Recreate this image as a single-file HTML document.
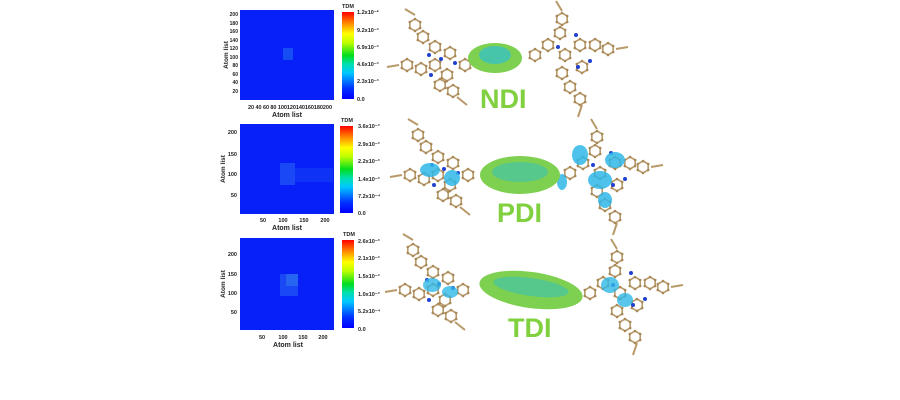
<!DOCTYPE html>
<html><head><meta charset="utf-8"><style>
body{margin:0;background:#fff;}
svg{display:block;font-family:"Liberation Sans",Arial,sans-serif;}
.t{font-size:5.5px;font-weight:bold;fill:#222}
.ty{font-size:5px;font-weight:bold;fill:#222}
.al{font-size:7px;font-weight:bold;fill:#222}
.ay{font-size:6.5px;font-weight:bold;fill:#222}
.lab{font-size:27px;font-weight:bold;fill:#80d040}
</style></head><body>
<svg width="900" height="400" viewBox="0 0 900 400">
<defs>
<linearGradient id="jet" x1="0" y1="1" x2="0" y2="0">
<stop offset="0" stop-color="#0000ff"/><stop offset="0.12" stop-color="#0030ff"/><stop offset="0.3" stop-color="#00c8ff"/>
<stop offset="0.4" stop-color="#00e0b0"/><stop offset="0.5" stop-color="#00dd20"/><stop offset="0.65" stop-color="#c0ff00"/>
<stop offset="0.75" stop-color="#ffff00"/><stop offset="0.88" stop-color="#ff8000"/><stop offset="1" stop-color="#ff0000"/>
</linearGradient>
<g id="ring"><polygon points="0,-6 5.2,-3 5.2,3 0,6 -5.2,3 -5.2,-3" fill="none" stroke="#b89a6a" stroke-width="1.6"/>
<circle cx="0" cy="-6" r="1.3" fill="#a88858"/><circle cx="5.2" cy="-3" r="1.3" fill="#a88858"/><circle cx="5.2" cy="3" r="1.3" fill="#a88858"/><circle cx="0" cy="6" r="1.3" fill="#a88858"/><circle cx="-5.2" cy="3" r="1.3" fill="#a88858"/><circle cx="-5.2" cy="-3" r="1.3" fill="#a88858"/></g>
<g id="wingL">
<use href="#ring" x="20" y="10"/><use href="#ring" x="28" y="22"/><use href="#ring" x="40" y="32"/><use href="#ring" x="55" y="38"/>
<use href="#ring" x="12" y="50"/><use href="#ring" x="26" y="54"/><use href="#ring" x="40" y="50"/><use href="#ring" x="52" y="60"/>
<use href="#ring" x="45" y="70"/><use href="#ring" x="58" y="76"/><use href="#ring" x="70" y="50"/>
<path d="M4 50 L-8 52 M20 0 L10 -6 M62 82 L72 90" stroke="#b89a6a" stroke-width="2"/>
<circle cx="34" cy="40" r="2" fill="#2040d0"/><circle cx="46" cy="44" r="2" fill="#2040d0"/><circle cx="36" cy="60" r="2" fill="#2040d0"/><circle cx="60" cy="48" r="2" fill="#2040d0"/>
</g>
<g id="wingR">
<use href="#ring" x="15" y="50"/><use href="#ring" x="28" y="40"/><use href="#ring" x="40" y="28"/><use href="#ring" x="42" y="14"/>
<use href="#ring" x="45" y="50"/><use href="#ring" x="60" y="40"/><use href="#ring" x="75" y="40"/><use href="#ring" x="88" y="44"/>
<use href="#ring" x="42" y="68"/><use href="#ring" x="50" y="82"/><use href="#ring" x="60" y="94"/><use href="#ring" x="62" y="62"/>
<path d="M42 6 L36 -4 M96 44 L108 42 M62 100 L58 112" stroke="#b89a6a" stroke-width="2"/>
<circle cx="38" cy="42" r="2" fill="#2040d0"/><circle cx="56" cy="30" r="2" fill="#2040d0"/><circle cx="58" cy="62" r="2" fill="#2040d0"/><circle cx="70" cy="56" r="2" fill="#2040d0"/>
</g>
</defs>

<!-- Panel 1 -->
<rect x="240" y="10" width="94" height="90" fill="#0820f8"/>
<rect x="283" y="48" width="10" height="12" fill="#1e6af0" opacity="0.6"/>
<rect x="342" y="12" width="12" height="87" fill="url(#jet)"/>
<text class="t" x="342" y="8" font-size="6">TDM</text>
<g class="ty" text-anchor="end"><text x="238" y="16">200</text><text x="238" y="25">180</text><text x="238" y="33">160</text><text x="238" y="42">140</text><text x="238" y="50">120</text><text x="238" y="59">100</text><text x="238" y="67">80</text><text x="238" y="76">60</text><text x="238" y="84">40</text><text x="238" y="93">20</text></g>
<g class="t"><text x="357" y="14">1.2x10⁻²</text><text x="357" y="32">9.2x10⁻³</text><text x="357" y="49">6.9x10⁻³</text><text x="357" y="66">4.6x10⁻³</text><text x="357" y="83">2.3x10⁻³</text><text x="357" y="101">0.0</text></g>
<text class="t" x="248" y="109" textLength="84">20 40 60 80 100120140160180200</text>
<text class="al" x="287" y="117" text-anchor="middle">Atom list</text>
<text class="ay" x="228" y="55" text-anchor="middle" transform="rotate(-90 228 55)">Atom list</text>

<!-- Panel 2 -->
<rect x="240" y="124" width="94" height="90" fill="#0820f8"/>
<rect x="280" y="163" width="15" height="22" fill="#2a70f0" opacity="0.5"/>
<rect x="295" y="168" width="38" height="14" fill="#1a50f0" opacity="0.4"/>
<rect x="340" y="126" width="13" height="87" fill="url(#jet)"/>
<text class="t" x="341" y="122" font-size="6">TDM</text>
<g class="t" text-anchor="end"><text x="237" y="134">200</text><text x="237" y="156">150</text><text x="237" y="176">100</text><text x="237" y="197">50</text></g>
<g class="t"><text x="358" y="128">3.6x10⁻³</text><text x="358" y="146">2.9x10⁻³</text><text x="358" y="163">2.2x10⁻³</text><text x="358" y="181">1.4x10⁻³</text><text x="358" y="198">7.2x10⁻⁴</text><text x="358" y="215">0.0</text></g>
<g class="t" text-anchor="middle"><text x="263" y="222">50</text><text x="283" y="222">100</text><text x="304" y="222">150</text><text x="325" y="222">200</text></g>
<text class="al" x="287" y="230" text-anchor="middle">Atom list</text>
<text class="ay" x="225" y="169" text-anchor="middle" transform="rotate(-90 225 169)">Atom list</text>

<!-- Panel 3 -->
<rect x="240" y="238" width="94" height="92" fill="#0820f8"/>
<rect x="280" y="274" width="18" height="22" fill="#2a70f0" opacity="0.5"/>
<rect x="286" y="274" width="12" height="12" fill="#3a90f0" opacity="0.4"/>
<rect x="342" y="240" width="12" height="88" fill="url(#jet)"/>
<text class="t" x="343" y="236" font-size="6">TDM</text>
<g class="t" text-anchor="end"><text x="237" y="256">200</text><text x="237" y="276">150</text><text x="237" y="295">100</text><text x="237" y="314">50</text></g>
<g class="t"><text x="358" y="243">2.6x10⁻³</text><text x="358" y="260">2.1x10⁻³</text><text x="358" y="278">1.5x10⁻³</text><text x="358" y="296">1.0x10⁻³</text><text x="358" y="313">5.2x10⁻⁴</text><text x="358" y="331">0.0</text></g>
<g class="t" text-anchor="middle"><text x="262" y="339">50</text><text x="283" y="339">100</text><text x="303" y="339">150</text><text x="323" y="339">200</text></g>
<text class="al" x="288" y="347" text-anchor="middle">Atom list</text>
<text class="ay" x="225" y="284" text-anchor="middle" transform="rotate(-90 225 284)">Atom list</text>

<!-- NDI molecule -->
<use href="#wingL" x="395" y="15"/>
<use href="#wingR" x="520" y="5"/>
<ellipse cx="495" cy="58" rx="27" ry="15" fill="#7ed050"/>
<ellipse cx="495" cy="55" rx="16" ry="9" fill="#30c0d0" opacity="0.7"/>
<text class="lab" x="480" y="108">NDI</text>

<!-- PDI molecule -->
<use href="#wingL" x="398" y="125"/>
<use href="#wingR" x="555" y="123"/>
<g fill="#30b8e8" opacity="0.85"><ellipse cx="430" cy="170" rx="10" ry="7"/><ellipse cx="452" cy="178" rx="8" ry="8"/><ellipse cx="580" cy="155" rx="8" ry="10"/><ellipse cx="600" cy="180" rx="12" ry="9"/><ellipse cx="615" cy="160" rx="10" ry="8"/><ellipse cx="605" cy="200" rx="7" ry="8"/><ellipse cx="562" cy="182" rx="5" ry="8"/></g>
<ellipse cx="520" cy="175" rx="40" ry="19" fill="#7ed050"/>
<ellipse cx="520" cy="172" rx="28" ry="10" fill="#30c0c8" opacity="0.5"/>
<text class="lab" x="497" y="222">PDI</text>

<!-- TDI molecule -->
<use href="#wingL" x="393" y="240"/>
<use href="#wingR" x="575" y="243"/>
<g fill="#30b8e8" opacity="0.8"><ellipse cx="432" cy="285" rx="9" ry="7"/><ellipse cx="450" cy="292" rx="8" ry="6"/><ellipse cx="610" cy="285" rx="9" ry="8"/><ellipse cx="625" cy="300" rx="8" ry="7"/></g>
<ellipse cx="531" cy="290" rx="52" ry="18" fill="#7ed050" transform="rotate(8 531 290)"/>
<ellipse cx="531" cy="287" rx="38" ry="9" fill="#30c0c8" opacity="0.5" transform="rotate(8 531 287)"/>
<text class="lab" x="508" y="337">TDI</text>
</svg>
</body></html>
